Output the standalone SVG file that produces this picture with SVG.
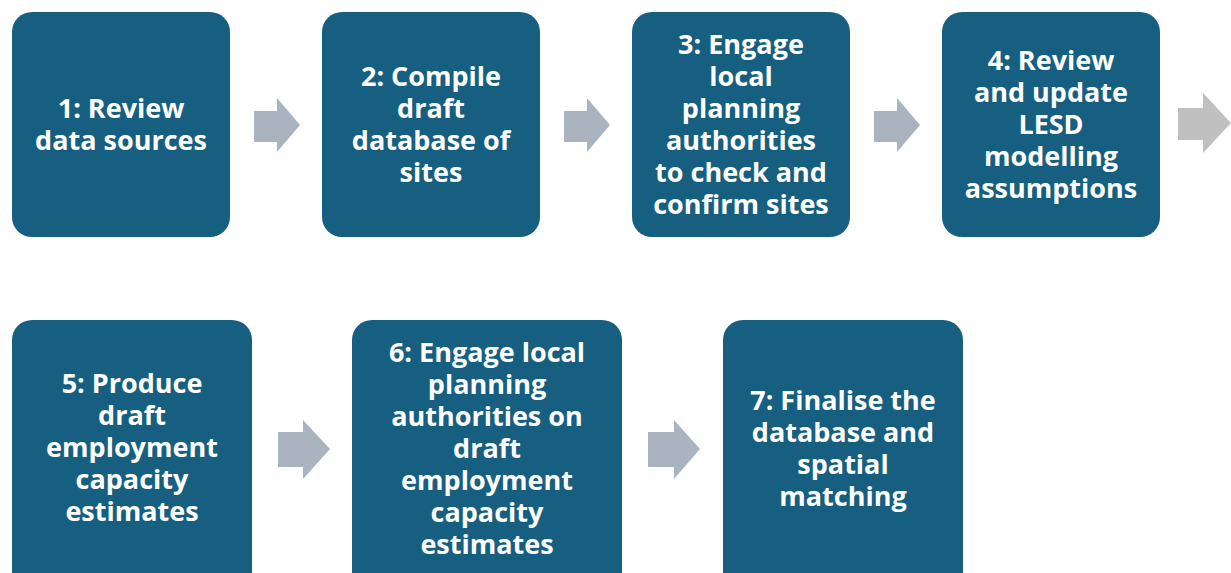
<svg xmlns="http://www.w3.org/2000/svg" width="1231" height="573" viewBox="0 0 1231 573">
  <style>
    .box { fill: #175f80; }
    .lbl { font-family: "Open Sans", "Noto Sans", sans-serif; font-weight: 700; font-size: 27px; fill: #ffffff; text-anchor: middle; }
    .arr { fill: #aab4c0; }
    .arr-end { fill: #c0c0c0; }
  </style>
  <rect width="1231" height="573" fill="#ffffff"/>

  <g id="connectors">
    <polygon class="arr" points="254,111 277,111 277,98 300,125 277,152 277,142 254,142"/>
    <polygon class="arr" points="564,111 587,111 587,98 610,125 587,152 587,142 564,142"/>
    <polygon class="arr" points="874,111 897,111 897,98 920,125 897,152 897,142 874,142"/>
    <polygon class="arr-end" points="1178,108 1203,108 1203,93 1231,123 1203,153 1203,140 1178,140"/>
    <polygon class="arr" points="278,432 303,432 303,420 330,449 303,479 303,467 278,467"/>
    <polygon class="arr" points="648,432 674,432 674,420 700,449 674,479 674,467 648,467"/>
  </g>

  <g id="step1">
    <rect class="box" x="12" y="12" width="218" height="225" rx="20"/>
    <text class="lbl"><tspan x="121" y="118">1: Review</tspan><tspan x="121" y="150">data sources</tspan></text>
  </g>
  <g id="step2">
    <rect class="box" x="322" y="12" width="218" height="225" rx="20"/>
    <text class="lbl"><tspan x="431" y="86">2: Compile</tspan><tspan x="431" y="118">draft</tspan><tspan x="431" y="150">database of</tspan><tspan x="431" y="182">sites</tspan></text>
  </g>
  <g id="step3">
    <rect class="box" x="632" y="12" width="218" height="225" rx="20"/>
    <text class="lbl"><tspan x="741" y="54">3: Engage</tspan><tspan x="741" y="86">local</tspan><tspan x="741" y="118">planning</tspan><tspan x="741" y="150">authorities</tspan><tspan x="741" y="182">to check and</tspan><tspan x="741" y="214">confirm sites</tspan></text>
  </g>
  <g id="step4">
    <rect class="box" x="942" y="12" width="218" height="225" rx="20"/>
    <text class="lbl"><tspan x="1051" y="70">4: Review</tspan><tspan x="1051" y="102">and update</tspan><tspan x="1051" y="134">LESD</tspan><tspan x="1051" y="166">modelling</tspan><tspan x="1051" y="198">assumptions</tspan></text>
  </g>
  <g id="step5">
    <rect class="box" x="12" y="320" width="240" height="280" rx="20"/>
    <text class="lbl"><tspan x="132" y="393">5: Produce</tspan><tspan x="132" y="425">draft</tspan><tspan x="132" y="457">employment</tspan><tspan x="132" y="489">capacity</tspan><tspan x="132" y="521">estimates</tspan></text>
  </g>
  <g id="step6">
    <rect class="box" x="352" y="320" width="270" height="280" rx="20"/>
    <text class="lbl"><tspan x="487" y="362">6: Engage local</tspan><tspan x="487" y="394">planning</tspan><tspan x="487" y="426">authorities on</tspan><tspan x="487" y="458">draft</tspan><tspan x="487" y="490">employment</tspan><tspan x="487" y="522">capacity</tspan><tspan x="487" y="554">estimates</tspan></text>
  </g>
  <g id="step7">
    <rect class="box" x="723" y="320" width="240" height="280" rx="20"/>
    <text class="lbl"><tspan x="843" y="410">7: Finalise the</tspan><tspan x="843" y="442">database and</tspan><tspan x="843" y="474">spatial</tspan><tspan x="843" y="506">matching</tspan></text>
  </g>
</svg>
